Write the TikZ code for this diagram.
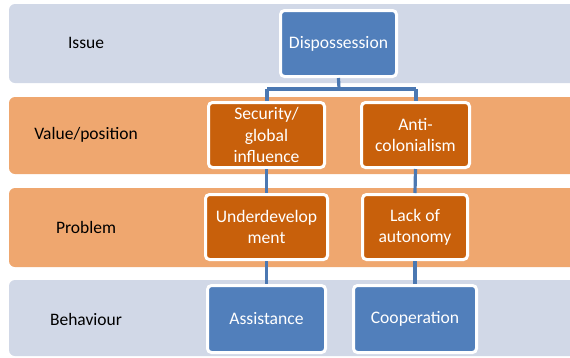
\documentclass[tikz,border=0pt]{standalone}
\usepackage{fontspec}
\setmainfont{Carlito}
\definecolor{bandblue}{HTML}{D1D8E7}
\definecolor{bandorange}{HTML}{EFA76F}
\definecolor{boxblue}{HTML}{517FBB}
\definecolor{boxorange}{HTML}{C8600B}
\definecolor{linkblue}{HTML}{4B78B2}
\tikzset{
  band/.style={rounded corners=6pt},
  bandlabel/.style={font=\fontsize{17.5}{21}\selectfont, text=black},
  bluebox/.style={draw=white, line width=3pt, fill=boxblue, rounded corners=4pt, text=white, align=center, font=\fontsize{17.6}{21.3}\selectfont},
  orangebox/.style={draw=white, line width=3pt, fill=boxorange, rounded corners=4pt, text=white, align=center, font=\fontsize{17.6}{21.3}\selectfont},
  link/.style={draw=linkblue, line width=3.2pt}
}
\begin{document}
\begin{tikzpicture}[x=1pt,y=-1pt]
\useasboundingbox (0,0) rectangle (570,357);
\clip (0,0) rectangle (570,357);
% bands
\fill[bandblue, band] (9,4) rectangle (590,83);
\fill[bandorange, band] (9,97) rectangle (590,174);
\fill[bandorange, band] (9,188) rectangle (590,267);
\fill[bandblue, band] (9,280) rectangle (590,356);
% band labels
\node[bandlabel] (lissue) at (86,43) {Issue};
\node[bandlabel] (lvalue) at (86,135) {Value/position};
\node[bandlabel] (lproblem) at (86,227) {Problem};
\node[bandlabel] (lbehav) at (86,319) {Behaviour};
% junction points
\coordinate (j) at (339,89);
\coordinate (jl) at (267,89);
\coordinate (jr) at (416,89);
% boxes
\node[bluebox, minimum width=116pt, minimum height=66pt] (disp) at (338.5,43.5) {Dispossession};
\node[orangebox, minimum width=116pt, minimum height=65pt] (sec) at (266.5,135) {Security/\\global\\influence};
\node[orangebox, minimum width=108pt, minimum height=65pt] (anti) at (415.5,135) {Anti-\\colonialism};
\node[orangebox, minimum width=122pt, minimum height=65pt] (under) at (266.5,227) {Underdevelop\\ment};
\node[orangebox, minimum width=105pt, minimum height=65pt] (lack) at (415,227) {Lack of\\autonomy};
\node[bluebox, minimum width=118pt, minimum height=67pt] (assist) at (266.5,319) {Assistance};
\node[bluebox, minimum width=123pt, minimum height=67pt] (coop) at (415,319) {Cooperation};
% connectors
\draw[link] (disp.south) -- (j);
\draw[link] (jl) -- (jr);
\draw[link] (jl) -- (sec.north -| jl);
\draw[link] (jr) -- (anti.north -| jr);
\draw[link] (sec.south) -- (under.north);
\draw[link] (anti.south) -- (lack.north);
\draw[link] (under.south) -- (assist.north);
\draw[link] (lack.south) -- (coop.north);
\end{tikzpicture}
\end{document}
